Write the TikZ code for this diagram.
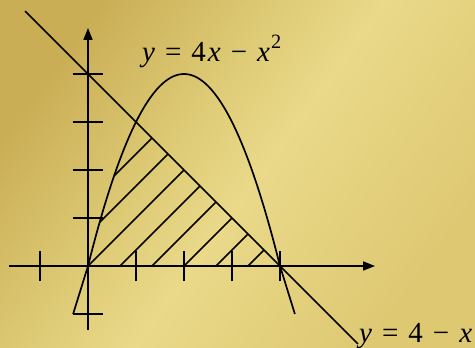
\documentclass[tikz,border=0pt]{standalone}
\usepackage{fontspec}
\setmainfont{Liberation Serif}
\usetikzlibrary{arrows.meta}
\definecolor{gA}{RGB}{202,174,86}
\definecolor{gB}{RGB}{222,203,118}
\definecolor{gC}{RGB}{233,217,137}
\definecolor{gD}{RGB}{222,200,114}
\pgfdeclarehorizontalshading{goldbg}{100bp}{
  color(0bp)=(gA); color(25bp)=(gA); color(42bp)=(gB); color(52bp)=(gC); color(75bp)=(gD); color(100bp)=(gD)}
\tikzset{
  curve/.style={line width=1.7pt, black},
  axisline/.style={line width=1.7pt, black, -{Triangle[length=12pt,width=9pt]}},
  tick/.style={line width=1.7pt, black},
  hatch/.style={line width=1.5pt, black},
  eqlabel/.style={font=\fontsize{29}{32}\selectfont, inner sep=0pt, anchor=base west}
}
\newcommand{\opgap}{\hspace{10pt}}
\begin{document}
\begin{tikzpicture}[x=48pt,y=48pt]
\useasboundingbox (-88pt,-82pt) rectangle (387pt,266pt);
\shade[shading=goldbg, shading angle=-36] (-88pt,-82pt) rectangle (387pt,266pt);
% hatching
\begin{scope}
  \clip (0,0) -- plot[domain=0:1, samples=30] (\x,{4*\x-\x*\x}) -- (4,0) -- cycle;
  \foreach \c in {-4/3,-2/3,0,2/3,4/3,2,8/3,10/3}
    \draw[hatch] ({\c-1},-1) -- ({\c+6},6);
\end{scope}
% axes
\coordinate (xs) at (-1.65,0);
\coordinate (xe) at (5.98,0);
\coordinate (ys) at (0,-1.33);
\coordinate (ye) at (0,4.96);
\draw[axisline] (xs) -- (xe);
\draw[axisline] (ys) -- (ye);
\foreach \i in {-1,1,2,3,4}
  \draw[tick] (\i,-0.32) -- (\i,0.32);
\foreach \j in {-1,1,2,3,4}
  \draw[tick] (-0.32,\j) -- (0.32,\j);
% parabola
\draw[curve] (-0.31,-1) -- plot[domain=0:4, samples=80] (\x,{4*\x-\x*\x}) -- (4.31,-1);
% line
\coordinate (la) at (-1.31,5.31);
\coordinate (lb) at (5.625,-1.625);
\draw[curve] (la) -- (lb);
% labels
\node[eqlabel] (parab) at (54pt,204pt) {\textit{y}\opgap=\opgap4\hspace{2pt}\textit{x}\opgap−\opgap\textit{x}\hspace{1pt}\raisebox{4pt}{\textsuperscript{2}}};
\node[eqlabel] (lin) at (271pt,-77pt) {\textit{y}\opgap=\opgap4\opgap−\opgap\textit{x}};
\end{tikzpicture}
\end{document}
